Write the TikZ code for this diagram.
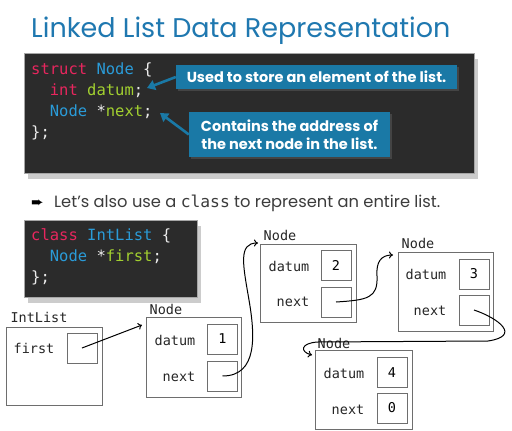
\documentclass[tikz,border=0pt]{standalone}
\usepackage{fontspec}
\setmainfont{Poppins}
\setmonofont{DejaVu Sans Mono}
\newfontfamily\dingfont{DejaVu Sans}
\usetikzlibrary{arrows.meta,shadows}

\definecolor{titleblue}{HTML}{1F78B0}
\definecolor{codebg}{HTML}{2B2B2B}
\definecolor{kwpink}{HTML}{E8265E}
\definecolor{typeblue}{HTML}{2A9BD8}
\definecolor{idgreen}{HTML}{A2D030}
\definecolor{tipblue}{HTML}{1A79A6}
\definecolor{bodygray}{HTML}{3C3C3C}
\definecolor{boxgray}{HTML}{6E6E6E}

\tikzset{
  codebox/.style={fill=codebg, draw=gray!70, line width=0.4pt, inner sep=0pt,
    drop shadow={opacity=0.4, shadow xshift=4pt, shadow yshift=-6pt}},
  codeline/.style={anchor=base west, inner sep=0pt, text=white!92!black,
    font=\ttfamily\fontsize{15.5}{18}\selectfont},
  callout/.style={fill=tipblue, text=white, inner sep=0pt,
    font=\bfseries\fontsize{14.5}{18}\selectfont,
    drop shadow={opacity=0.3, shadow xshift=2pt, shadow yshift=-2pt}},
  callarrow/.style={tipblue, line width=2.6pt, -{Triangle[length=8pt,width=10pt]}},
  objbox/.style={draw=boxgray, line width=0.9pt, fill=white, inner sep=0pt},
  cell/.style={draw=boxgray, line width=0.9pt, minimum size=30pt, inner sep=0pt,
    font=\ttfamily\fontsize{13.5}{14}\selectfont},
  lbl/.style={inner sep=0pt, text=black!85, font=\ttfamily\fontsize{13.5}{14}\selectfont},
  link/.style={line width=1pt, -{To[length=4pt,width=7pt]}}
}
\newcommand{\kw}[1]{\textcolor{kwpink}{#1}}
\newcommand{\ty}[1]{\textcolor{typeblue}{#1}}
\newcommand{\idf}[1]{\textcolor{idgreen}{#1}}

\begin{document}
\begin{tikzpicture}[x=1pt, y=-1pt]
  \useasboundingbox[fill=white] (0,0) rectangle (512,431);

  % title
  \node[anchor=base west, inner sep=0pt, text=titleblue, font=\fontsize{27}{30}\selectfont] (title) at (31,37) {Linked List Data Representation};

  % struct Node
  \node[codebox, minimum width=450pt, minimum height=120pt] (codeA) at (249,113) {};
  \node[codeline] (codeA1) at (31,74) {\kw{struct} \ty{Node} \{};
  \node[codeline] (codeA2) at (31,95) {\phantom{xx}\kw{int} \idf{datum};};
  \node[codeline] (codeA3) at (31,116) {\phantom{xx}\ty{Node} *\idf{next};};
  \node[codeline] (codeA4) at (31,137) {\};};

  \node[callout, minimum width=281pt, minimum height=24pt] (tipA) at (316.5,77) {Used to store an element of the list.};
  \node[callout, minimum width=201pt, minimum height=45pt, align=center] (tipB) at (289.5,134.5) {Contains the address of\\the next node in the list.};
  \coordinate (datumend) at (147,88);
  \coordinate (nextend) at (160,113);
  \draw[callarrow] (tipA.west) -- (datumend);
  \draw[callarrow] (tipB.west) -- (nextend);

  % bullet
  \node[anchor=base west, inner sep=0pt, font=\dingfont\fontsize{15}{15}\selectfont] (bullet) at (31,207) {➨};
  \node[anchor=base west, inner sep=0pt, text=bodygray, font=\fontsize{16.3}{18}\selectfont] (note) at (54,207) {Let's also use a \texttt{class} to represent an entire list.};

  % class IntList
  \node[codebox, minimum width=173pt, minimum height=77pt] (codeB) at (110.5,258.5) {};
  \node[codeline] (codeB1) at (31,240) {\kw{class} \ty{IntList} \{};
  \node[codeline] (codeB2) at (31,261) {\phantom{xx}\ty{Node} *\idf{first};};
  \node[codeline] (codeB3) at (31,282) {\};};

  % IntList object
  \node[objbox, minimum width=96pt, minimum height=78pt] (list) at (54,366) {};
  \node[lbl] (listname) at (39,317) {IntList};
  \node[lbl] (firstlbl) at (34,348) {first};
  \node[cell] (listfirst) at (82,348) {};

  % Node objects
  \node[objbox, minimum width=95pt, minimum height=80pt] (n1) at (193.5,357) {};
  \node[lbl] (n1name) at (166,309) {Node};
  \node[lbl] (n1d) at (175,340) {datum};
  \node[lbl] (n1n) at (179,377) {next};
  \node[cell] (n1datum) at (222.5,339) {1};
  \node[cell] (n1next) at (222.5,376) {};

  \node[objbox, minimum width=96pt, minimum height=78pt] (n2) at (308,283) {};
  \node[lbl] (n2name) at (280,235) {Node};
  \node[lbl] (n2d) at (289,266) {datum};
  \node[lbl] (n2n) at (293,302) {next};
  \node[cell] (n2datum) at (336,265.5) {2};
  \node[cell] (n2next) at (336,302) {};

  \node[objbox, minimum width=95pt, minimum height=79pt] (n3) at (445.5,291.5) {};
  \node[lbl] (n3name) at (418,243) {Node};
  \node[lbl] (n3d) at (426,274) {datum};
  \node[lbl] (n3n) at (430,311) {next};
  \node[cell] (n3datum) at (474,274) {3};
  \node[cell] (n3next) at (474,310) {};

  \node[objbox, minimum width=97pt, minimum height=79pt] (n4) at (363.5,389.5) {};
  \node[lbl] (n4name) at (334,343) {Node};
  \node[lbl] (n4d) at (344,373) {datum};
  \node[lbl] (n4n) at (348,410) {next};
  \node[cell] (n4datum) at (392,372.5) {4};
  \node[cell] (n4next) at (392,408) {0};

  % links
  \coordinate (n1in) at (142,325);
  \coordinate (n2in) at (258,243);
  \coordinate (n3in) at (393,255);
  \coordinate (n4in) at (312,355);
  \draw[link] (listfirst.center) -- (n1in);
  \draw[link] (n1next.center) .. controls (258,376) and (255,335) .. (249,300) .. controls (243,265) and (238,243) .. (n2in);
  \draw[link] (n2next.center) .. controls (368,300) and (378,298) .. (377,276) .. controls (376,262) and (381,255) .. (n3in);
  \draw[link] (n3next.center) .. controls (498,318) and (522,336) .. (488,341) -- (318,342) .. controls (300,343) and (300,352) .. (n4in);
\end{tikzpicture}
\end{document}
